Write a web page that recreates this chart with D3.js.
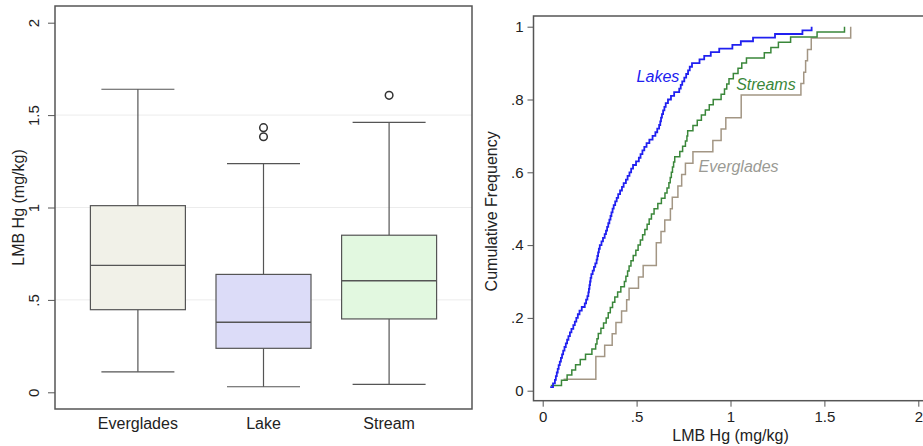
<!DOCTYPE html>
<html><head><meta charset="utf-8">
<script src="https://cdn.jsdelivr.net/npm/d3@7"></script>
<style>html,body{margin:0;padding:0;background:#fff;}svg{display:block;font-family:"Liberation Sans",Arial,Helvetica,sans-serif;}</style>
</head><body><svg id="c" width="923" height="446"></svg>
<script>
// ---------- Box plot data ----------
const groups = ["Everglades", "Lake", "Stream"];
const boxFill = ["#f1f1e8", "#dcdcf8", "#e2f8e0"];
const whiskerLow = [0.111, 0.030, 0.043];
const q1 = [0.447, 0.238, 0.397];
const median = [0.687, 0.379, 0.604];
const q3 = [1.010, 0.638, 0.850];
const whiskerHigh = [1.640, 1.237, 1.461];
const outliers = [[], [1.432, 1.383], [1.607]];
const leftTicks = [0, 0.5, 1, 1.5, 2];
const leftTickLabels = ["0", ".5", "1", "1.5", "2"];

// ---------- Cumulative frequency data (sorted sample values) ----------
const lakesHg = [0.040,0.055,0.065,0.070,0.075,0.080,0.085,0.091,0.097,0.103,
 0.109,0.116,0.123,0.130,0.137,0.145,0.153,0.163,0.171,0.179,
 0.187,0.196,0.208,0.224,0.231,0.238,0.243,0.246,0.249,0.252,
 0.255,0.259,0.266,0.273,0.280,0.287,0.291,0.295,0.299,0.304,
 0.313,0.321,0.330,0.337,0.343,0.349,0.355,0.361,0.366,0.372,
 0.378,0.386,0.394,0.402,0.412,0.422,0.431,0.443,0.452,0.462,
 0.471,0.481,0.497,0.512,0.521,0.531,0.541,0.553,0.568,0.585,
 0.600,0.610,0.620,0.626,0.630,0.635,0.641,0.648,0.655,0.667,
 0.683,0.700,0.727,0.735,0.743,0.754,0.764,0.774,0.783,0.795,
 0.835,0.860,0.895,0.940,1.010,1.055,1.120,1.237,1.383,1.432];
const streamsHg = [0.043,0.100,0.130,0.155,0.175,0.200,0.228,0.262,0.282,0.289,
 0.296,0.310,0.324,0.338,0.349,0.360,0.372,0.384,0.399,0.416,
 0.435,0.443,0.452,0.460,0.470,0.482,0.496,0.508,0.520,0.532,
 0.544,0.556,0.567,0.579,0.593,0.613,0.632,0.651,0.662,0.672,
 0.679,0.685,0.691,0.697,0.703,0.730,0.745,0.760,0.768,0.772,
 0.800,0.823,0.845,0.866,0.887,0.908,0.950,0.968,0.980,0.992,
 1.015,1.040,1.060,1.085,1.180,1.215,1.255,1.320,1.461,1.607];
const evergladesHg = [0.111,0.283,0.283,0.330,0.370,0.390,0.420,0.447,0.460,0.510,
 0.535,0.605,0.605,0.630,0.650,0.680,0.690,0.720,0.740,0.760,
 0.800,0.906,0.950,0.975,1.057,1.057,1.375,1.390,1.400,1.410,
 1.430,1.640];
const seriesNames = ["Everglades", "Streams", "Lakes"];
const seriesColors = ["#a39684", "#3a873a", "#2020f0"];
const labelColors = ["#9a9a94", "#3a873a", "#2020f0"];
const rightXTicks = [0, 0.5, 1, 1.5, 2];
const rightXTickLabels = ["0", ".5", "1", "1.5", "2"];
const rightYTicks = [0, 0.2, 0.4, 0.6, 0.8, 1];
const rightYTickLabels = ["0", ".2", ".4", ".6", ".8", "1"];

const svg = d3.select("#c");
const axisColor = "#555";

// ================= LEFT PANEL =================
const L = {x0: 55, x1: 472, y0: 6, y1: 409};
const yL = d3.scaleLinear().domain([0, 2]).range([392.3, 22.7]);
const xL = d3.scalePoint().domain(groups).range([L.x0, L.x1]).padding(0.66);
const gL = svg.append("g");

// gridlines
gL.selectAll("line.grid").data([0.5, 1, 1.5]).join("line")
  .attr("x1", L.x0).attr("x2", L.x1)
  .attr("y1", d => yL(d)).attr("y2", d => yL(d))
  .attr("stroke", "#ececec").attr("stroke-width", 1);

const yAxisL = d3.axisLeft(yL).tickValues(leftTicks)
  .tickFormat((d, i) => leftTickLabels[i]).tickSize(7).tickPadding(5);
const ayL = gL.append("g").attr("transform", `translate(${L.x0},0)`).call(yAxisL);
ayL.select(".domain").remove();
ayL.selectAll(".tick line").attr("stroke", axisColor);
ayL.selectAll(".tick text").attr("font-size", 15).attr("fill", "#222")
  .attr("text-anchor", "middle").attr("dy", 0).attr("x", 0)
  .attr("transform", "translate(-16,0) rotate(-90)")
  .attr("dominant-baseline", "auto");

// boxes
const bw = 95, cw = 73;
groups.forEach((g, i) => {
  const cx = xL(g);
  const b = gL.append("g");
  b.append("line").attr("x1", cx).attr("x2", cx).attr("y1", yL(q3[i])).attr("y2", yL(whiskerHigh[i]))
    .attr("stroke", axisColor).attr("stroke-width", 1.2);
  b.append("line").attr("x1", cx).attr("x2", cx).attr("y1", yL(q1[i])).attr("y2", yL(whiskerLow[i]))
    .attr("stroke", axisColor).attr("stroke-width", 1.2);
  b.append("line").attr("x1", cx - cw / 2).attr("x2", cx + cw / 2).attr("y1", yL(whiskerHigh[i])).attr("y2", yL(whiskerHigh[i]))
    .attr("stroke", axisColor).attr("stroke-width", 1.2);
  b.append("line").attr("x1", cx - cw / 2).attr("x2", cx + cw / 2).attr("y1", yL(whiskerLow[i])).attr("y2", yL(whiskerLow[i]))
    .attr("stroke", axisColor).attr("stroke-width", 1.2);
  b.append("rect").attr("x", cx - bw / 2).attr("width", bw)
    .attr("y", yL(q3[i])).attr("height", yL(q1[i]) - yL(q3[i]))
    .attr("fill", boxFill[i]).attr("stroke", axisColor).attr("stroke-width", 1.2);
  b.append("line").attr("x1", cx - bw / 2).attr("x2", cx + bw / 2).attr("y1", yL(median[i])).attr("y2", yL(median[i]))
    .attr("stroke", axisColor).attr("stroke-width", 1.4);
  b.selectAll("circle").data(outliers[i]).join("circle")
    .attr("cx", cx).attr("cy", d => yL(d)).attr("r", 3.8)
    .attr("fill", "none").attr("stroke", "#333").attr("stroke-width", 1.5);
  gL.append("text").attr("x", cx).attr("y", 429).attr("text-anchor", "middle")
    .attr("font-size", 16).attr("fill", "#222").text(g);
});

gL.append("rect").attr("x", L.x0).attr("y", L.y0).attr("width", L.x1 - L.x0).attr("height", L.y1 - L.y0)
  .attr("fill", "none").attr("stroke", axisColor).attr("stroke-width", 1.5);
gL.append("text").attr("transform", `translate(24,${(L.y0 + L.y1) / 2}) rotate(-90)`)
  .attr("text-anchor", "middle").attr("font-size", 16).attr("fill", "#222").text("LMB Hg (mg/kg)");

// ================= RIGHT PANEL =================
const R = {x0: 533.5, x1: 930, y0: 16, y1: 400.7};
const xR = d3.scaleLinear().domain([0, 2]).range([542.7, 918.3]);
const yR = d3.scaleLinear().domain([0, 1]).range([390.7, 26.7]);
const gR = svg.append("g");

const axR = d3.axisBottom(xR).tickValues(rightXTicks).tickFormat((d, i) => rightXTickLabels[i]).tickSize(6).tickPadding(5);
const gax = gR.append("g").attr("transform", `translate(0,${R.y1})`).call(axR);
gax.select(".domain").remove();
gax.selectAll(".tick line").attr("stroke", axisColor);
gax.selectAll(".tick text").attr("font-size", 15).attr("fill", "#222");

const ayR = d3.axisLeft(yR).tickValues(rightYTicks).tickFormat((d, i) => rightYTickLabels[i]).tickSize(6).tickPadding(4);
const gay = gR.append("g").attr("transform", `translate(${R.x0},0)`).call(ayR);
gay.select(".domain").remove();
gay.selectAll(".tick line").attr("stroke", axisColor);
gay.selectAll(".tick text").attr("font-size", 15).attr("fill", "#222");

const allSeries = [evergladesHg, streamsHg, lakesHg];
const line = d3.line().x(d => xR(d[0])).y(d => yR(d[1])).curve(d3.curveStepAfter);
allSeries.forEach((vals, s) => {
  const n = vals.length;
  const pts = vals.map((v, k) => [v, (k + 1) / n]);
  gR.append("path").datum(pts).attr("d", line)
    .attr("fill", "none").attr("stroke", seriesColors[s]).attr("stroke-width", s === 2 ? 1.8 : 1.5);
});

const labelPos = [[0.83, 0.60], [1.03, 0.825], [0.50, 0.847]];
const labelText = ["Everglades", "Streams", "Lakes"];
labelText.forEach((t, i) => {
  gR.append("text").attr("x", xR(labelPos[i][0])).attr("y", yR(labelPos[i][1]))
    .attr("font-size", 16).attr("font-style", "italic").attr("fill", labelColors[i]).text(t);
});

gR.append("rect").attr("x", R.x0).attr("y", R.y0).attr("width", R.x1 - R.x0).attr("height", R.y1 - R.y0)
  .attr("fill", "none").attr("stroke", axisColor).attr("stroke-width", 1.5);
gR.append("text").attr("transform", `translate(497,${(R.y0 + R.y1) / 2 + 3}) rotate(-90)`)
  .attr("text-anchor", "middle").attr("font-size", 16).attr("fill", "#222").text("Cumulative Frequency");
gR.append("text").attr("x", xR(1)).attr("y", 441).attr("text-anchor", "middle")
  .attr("font-size", 16).attr("fill", "#222").text("LMB Hg (mg/kg)");
</script></body></html>
